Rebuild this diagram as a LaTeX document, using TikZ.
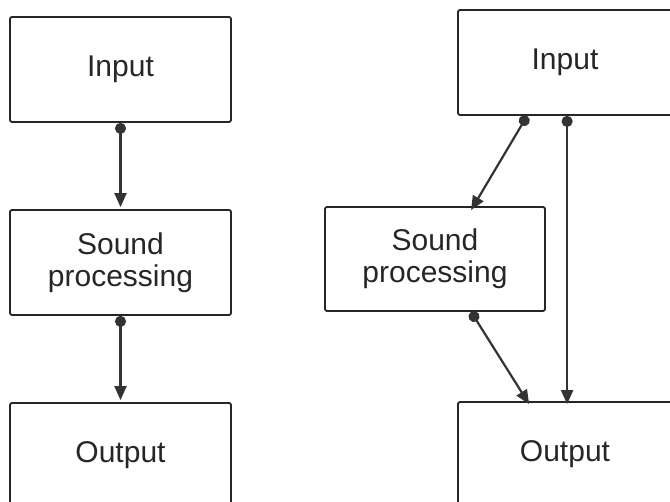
\documentclass[tikz,border=0pt]{standalone}
\usepackage{fontspec}
\setmainfont{Liberation Sans}
\usetikzlibrary{arrows.meta}
\begin{document}
\begin{tikzpicture}[x=1pt,y=-1pt,
  block/.style={draw=black!85, line width=1.8pt, rounded corners=2pt,
    minimum height=105pt, inner sep=0pt, align=center,
    font=\fontsize{30}{32}\selectfont, text=black!85},
  conn/.style={draw=black!80, line width=2.2pt,
    {Circle[length=11pt,width=11pt]}-{Triangle[length=14pt,width=12pt]}}]
  \useasboundingbox (0,0) rectangle (670,502);
  \begin{scope}
    \clip (0,0) rectangle (670,502);
    % serial chain
    \node[block, minimum width=221pt] (in1)  at (120.5,69.5)  {Input};
    \node[block, minimum width=221pt] (sp1)  at (120.5,262.5) {Sound\\processing};
    \node[block, minimum width=221pt] (out1) at (120.5,455.5) {Output};
    % parallel chain
    \node[block, minimum width=214pt] (in2)  at (565,62.5)  {Input};
    \node[block, minimum width=220pt, minimum height=104pt] (sp2) at (435,259) {Sound\\processing};
    \node[block, minimum width=214pt] (out2) at (565,454.5) {Output};
  \end{scope}
  \draw[conn, shorten >=2pt] (in1.south) -- (sp1.north);
  \draw[conn, shorten >=2pt] (sp1.south) -- (out1.north);
  \draw[conn] ([xshift=70pt]in2.south west) -- ([xshift=147pt,yshift=-4pt]sp2.north west);
  \draw[conn] ([xshift=110pt]in2.south west) -- ([xshift=110pt,yshift=-3pt]out2.north west);
  \draw[conn] ([xshift=147pt]sp2.south west) -- ([xshift=72pt,yshift=-3pt]out2.north west);
\end{tikzpicture}
\end{document}
